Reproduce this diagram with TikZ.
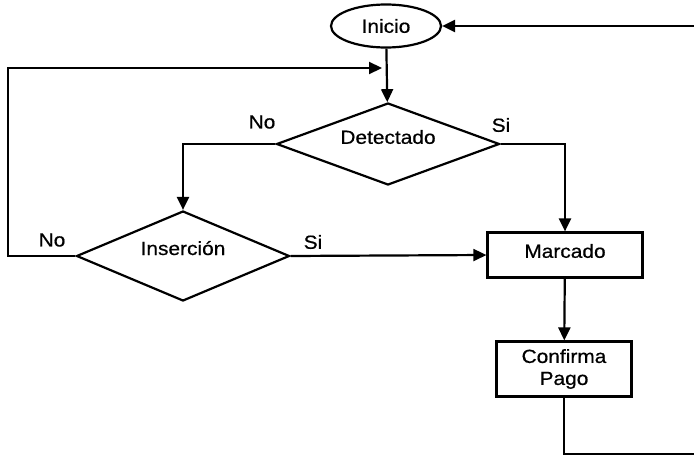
\documentclass[tikz,border=0pt]{standalone}
\usepackage{fontspec}
\setmainfont{Liberation Sans}[FakeStretch=1.1,FakeBold=0.6]
\usetikzlibrary{shapes.geometric,arrows.meta}
\begin{document}
\begin{tikzpicture}[>={Triangle[length=13pt,width=12pt]},x=1pt,y=-1pt,line width=2.2pt,
    every node/.style={font=\fontsize{19}{22}\selectfont,inner sep=0pt},
    decision/.style={draw,diamond,aspect=2.6,minimum width=#1,text height=13.6pt},
    process/.style={draw,rectangle,align=center}]
    \useasboundingbox (0,0) rectangle (694,455);
    \node[draw,ellipse,minimum width=110pt,minimum height=43pt] (inicio) at (386,26) {Inicio};
    \node[decision=223pt,minimum height=82pt,text depth=14pt] (det) at (388,144) {Detectado};
    \node[decision=213pt,minimum height=90pt,text depth=15.6pt] (ins) at (183,256) {Inserción};
    \node[process,minimum width=155pt,minimum height=45pt,text height=13.6pt,text depth=8pt] (marc) at (565,255) {Marcado};
    \node[process,minimum width=135pt,minimum height=55pt] (pago) at (564,369) {Confirma\\Pago};
    \node (nodet) at (262,122) {No}; \node (sidet) at (501,125) {Si};
    \node (noins) at (52,240) {No}; \node (siins) at (313,242) {Si};
    \coordinate (loopl) at (8,256); \coordinate (join) at (382,68);
    \coordinate (loopbr) at (694,454); \coordinate (looptr) at (694,26);
    \draw[->] (inicio) -- (det);
    \draw[->] (det.west) -| (ins.north);
    \draw[->] (det.east) -| (marc.north);
    \draw[->] (ins.east) -- (marc.west);
    \draw[->] (ins.west) -- (loopl) |- (join);
    \draw[->] (marc) -- (pago);
    \draw (pago.south) |- (loopbr);
    \draw[->] (looptr) -- (inicio);
\end{tikzpicture}
\end{document}
